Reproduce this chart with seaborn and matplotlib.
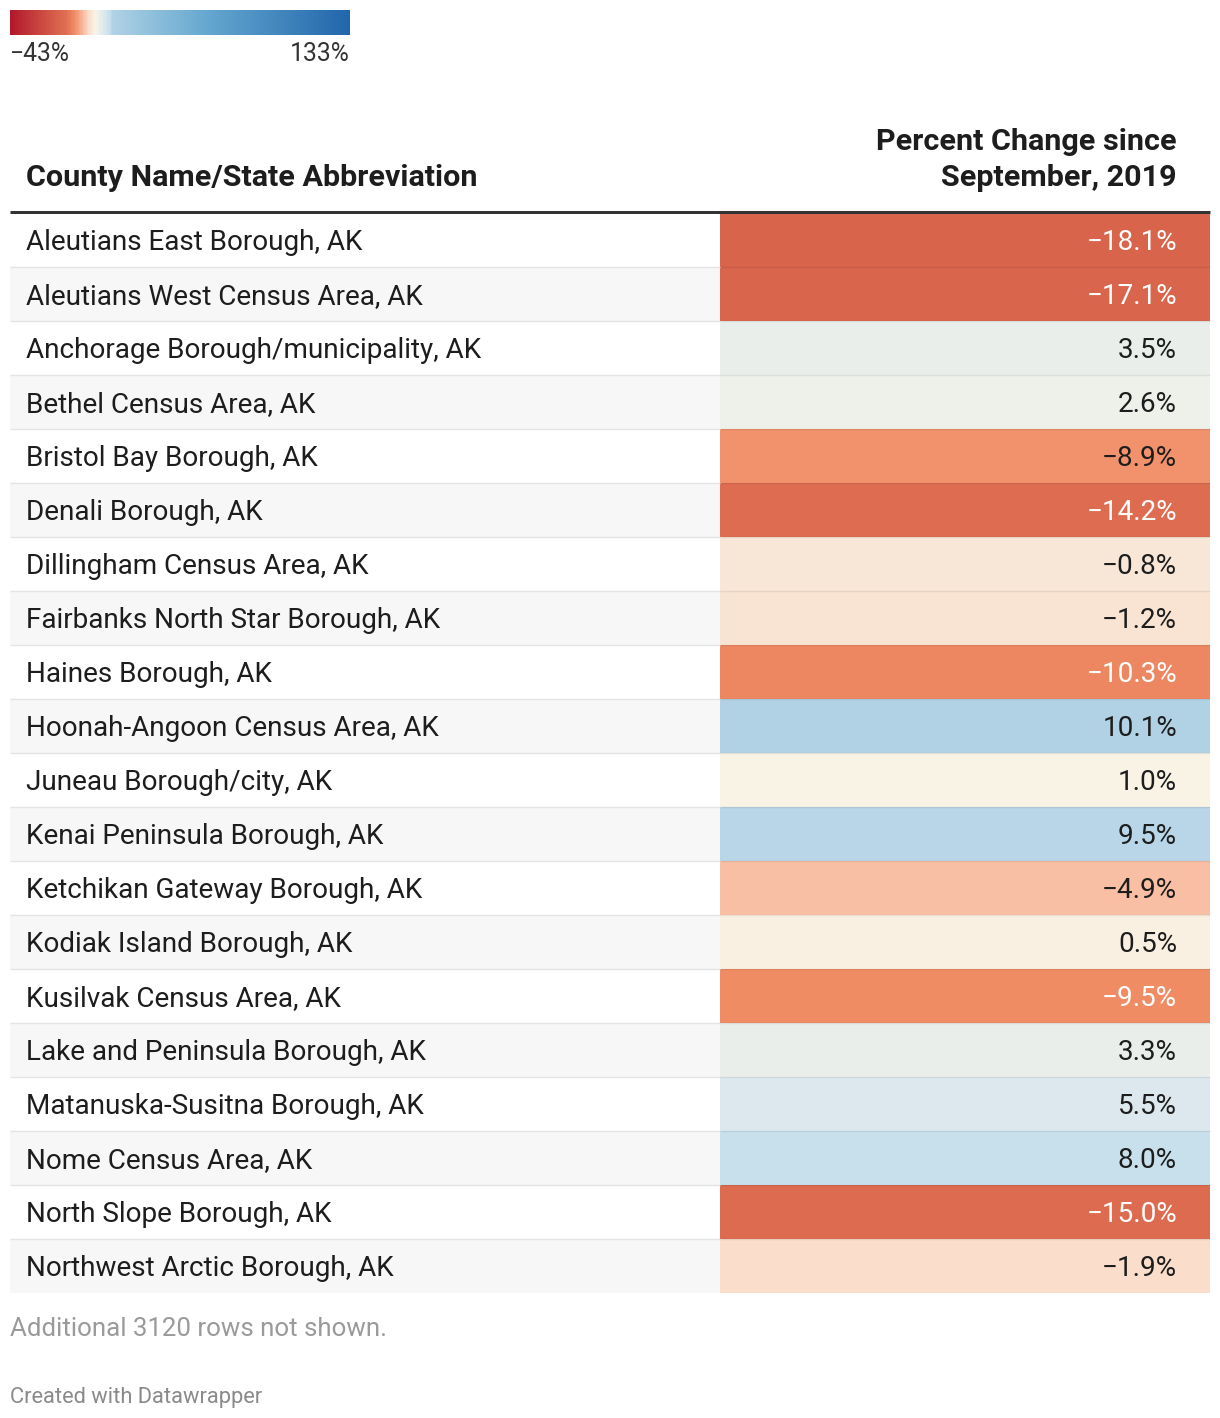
import numpy as np
import pandas as pd
import matplotlib
matplotlib.use("Agg")
import matplotlib.pyplot as plt
from matplotlib.colors import LinearSegmentedColormap, Normalize
from matplotlib.cm import ScalarMappable
import seaborn as sns

# ---------------- data ----------------
counties = [
    "Aleutians East Borough, AK",
    "Aleutians West Census Area, AK",
    "Anchorage Borough/municipality, AK",
    "Bethel Census Area, AK",
    "Bristol Bay Borough, AK",
    "Denali Borough, AK",
    "Dillingham Census Area, AK",
    "Fairbanks North Star Borough, AK",
    "Haines Borough, AK",
    "Hoonah-Angoon Census Area, AK",
    "Juneau Borough/city, AK",
    "Kenai Peninsula Borough, AK",
    "Ketchikan Gateway Borough, AK",
    "Kodiak Island Borough, AK",
    "Kusilvak Census Area, AK",
    "Lake and Peninsula Borough, AK",
    "Matanuska-Susitna Borough, AK",
    "Nome Census Area, AK",
    "North Slope Borough, AK",
    "Northwest Arctic Borough, AK",
]
pct_change = [-18.1, -17.1, 3.5, 2.6, -8.9, -14.2, -0.8, -1.2, -10.3, 10.1,
              1.0, 9.5, -4.9, 0.5, -9.5, 3.3, 5.5, 8.0, -15.0, -1.9]
scale_min = -43
scale_max = 133
header_left = "County Name/State Abbreviation"
header_right = "Percent Change since\nSeptember, 2019"
note_text = "Additional 3120 rows not shown."
credit_text = "Created with Datawrapper"

# ---------------- style ----------------
W, H = 1220, 1418
stops = [(-43, '#b2182b'), (-18, '#d9644c'), (-14, '#df6e52'), (-10, '#ef8b63'),
         (-8.5, '#f39874'), (-5, '#f9bfa5'), (-2, '#fae0cf'), (-0.8, '#f8e8d8'),
         (1, '#faf3e6'), (2.6, '#eef0ea'), (3.5, '#e7edea'), (5.5, '#dce7ee'),
         (8, '#c9e0ec'), (10, '#b1d2e5'), (30, '#8fc0dc'), (60, '#64a6cf'),
         (100, '#3f83bb'), (133, '#2166ac')]
cmap = LinearSegmentedColormap.from_list(
    "dw", [((v - scale_min) / (scale_max - scale_min), c) for v, c in stops])
norm = Normalize(vmin=scale_min, vmax=scale_max)

sns.set_theme(style="white")
plt.rcParams['font.family'] = ['Roboto', 'DejaVu Sans']

fig = plt.figure(figsize=(W / 100, H / 100), dpi=100)


def px_axes(x0, y0, x1, y1, z=0):
    return fig.add_axes([x0 / W, 1 - y1 / H, (x1 - x0) / W, (y1 - y0) / H], zorder=z)


PT = 0.72  # px -> pt
n = len(counties)
top, rowh = 213, 54
bottom = top + rowh * n
xl, xm, xr = 10, 720, 1210

# name column background
ax_n = px_axes(xl, top, xm, bottom)
ax_n.set_xlim(0, 1)
ax_n.set_ylim(n, 0)
for i in range(n):
    ax_n.axhspan(i, i + 1, color='#f7f7f7' if i % 2 else 'white', lw=0)
ax_n.axis('off')

# value column heatmap
df = pd.DataFrame({"value": pct_change}, index=counties)
ax_v = px_axes(xm, top, xr, bottom)
sns.heatmap(df[["value"]], ax=ax_v, cmap=cmap, vmin=scale_min, vmax=scale_max,
            cbar=False, xticklabels=False, yticklabels=False, linewidths=0)
ax_v.axis('off')

# overlay for text/lines
ov = px_axes(0, 0, W, H, z=5)
ov.set_xlim(0, W)
ov.set_ylim(H, 0)
ov.axis('off')
ov.patch.set_alpha(0)

for i in range(1, n):
    y = top + rowh * i
    ov.plot([xl, xm], [y, y], color='#e4e4e4', lw=1.4 * PT, solid_capstyle='butt')
    ov.plot([xm, xr], [y, y], color='black', alpha=0.07, lw=1.4 * PT, solid_capstyle='butt')

ov.plot([xl, xr], [top - 1.5, top - 1.5], color='#333333', lw=3 * PT, solid_capstyle='butt')

fs = 27.9 * PT
for i, (name, v) in enumerate(zip(counties, pct_change)):
    yc = top + rowh * (i + 0.5) + 3
    ov.text(26.5, yc, name, fontsize=fs, color='#1d1d1d', va='center', ha='left')
    col = 'white' if v <= -9.5 else '#1d1d1d'
    ov.text(1177, yc, f"{v:.1f}%".replace('-', '\u2212'), fontsize=fs, color=col,
            va='center', ha='right')

hfs = 30.5 * PT
ov.text(26.5, 178, header_left, fontsize=hfs, fontweight='bold', color='#1d1d1d',
        va='center', ha='left')
ov.text(1177, 160, header_right, fontsize=hfs, fontweight='bold', color='#1d1d1d',
        va='center', ha='right', linespacing=1.32, multialignment='right')

ov.text(10, 1329, note_text, fontsize=25.9 * PT, color='#9a9a9a', va='center', ha='left')
ov.text(10, 1397, credit_text, fontsize=21.9 * PT, color='#8a8a8a', va='center', ha='left')

# legend
cax = px_axes(10, 10, 350, 35)
cb = fig.colorbar(ScalarMappable(norm=norm, cmap=cmap), cax=cax, orientation='horizontal')
cb.outline.set_visible(False)
cb.set_ticks([])
ov.text(10, 54, f"{scale_min}%".replace('-', '\u2212'), fontsize=24.8 * PT, color='#333333',
        va='center', ha='left')
ov.text(350, 54, f"{scale_max}%", fontsize=24.8 * PT, color='#333333', va='center', ha='right')

fig.savefig("out.png", dpi=100, facecolor='white')
